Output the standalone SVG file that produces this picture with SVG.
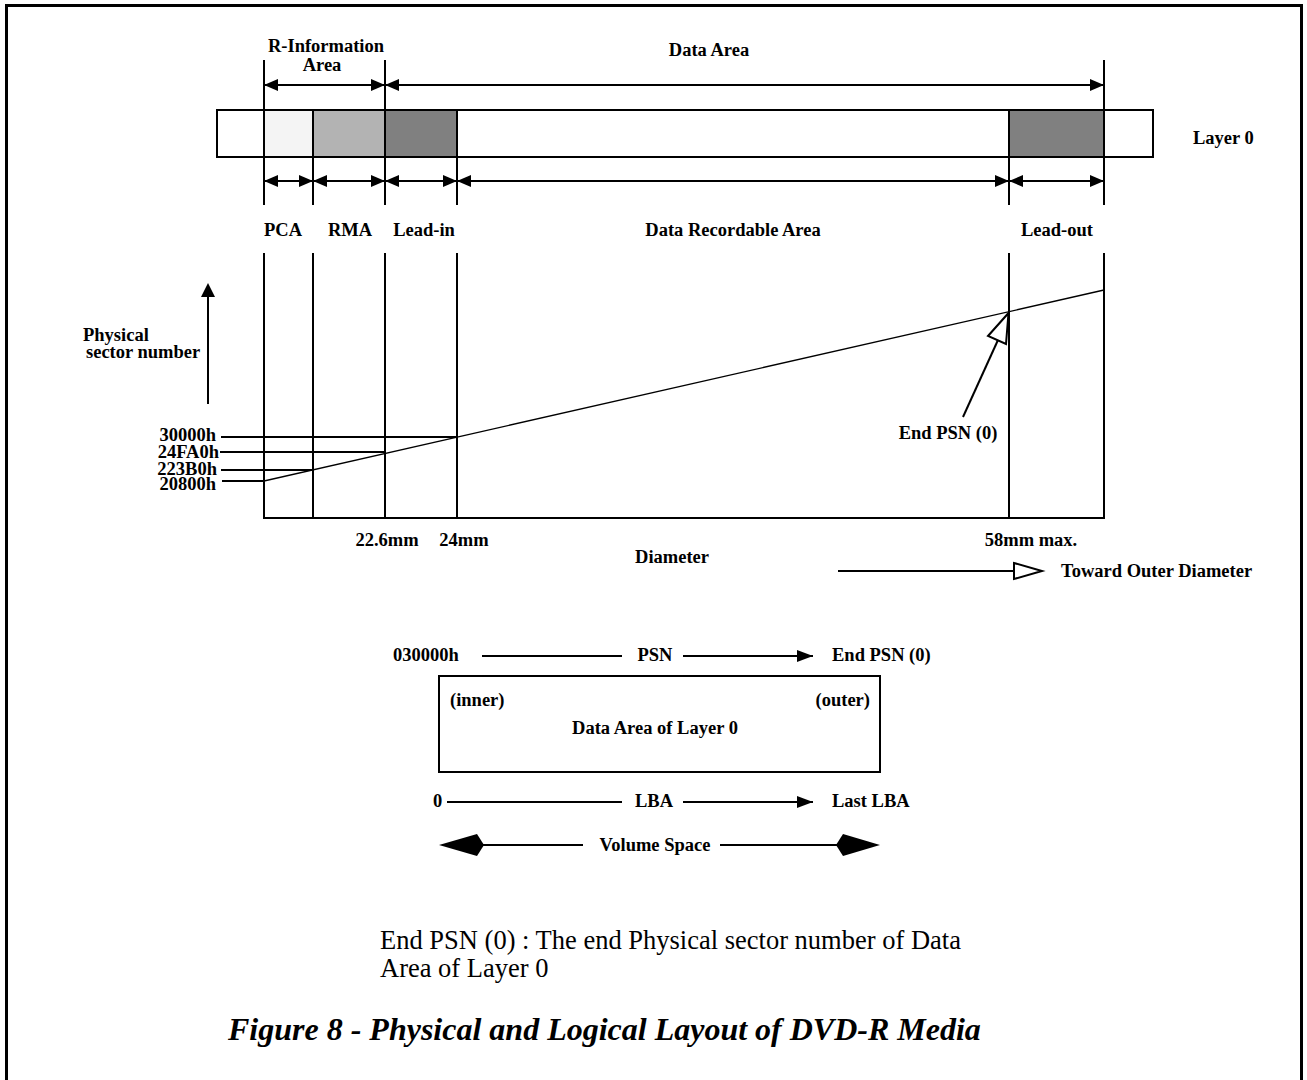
<svg xmlns="http://www.w3.org/2000/svg" width="1307" height="1080" viewBox="0 0 1307 1080">
  <style>
    .lbl { font-family: "Liberation Serif", "Times New Roman", serif; font-weight: bold; font-size: 18.5px; fill: #000; }
    .note { font-family: "Liberation Serif", "Times New Roman", serif; font-size: 26.5px; fill: #000; }
    .cap { font-family: "Liberation Serif", "Times New Roman", serif; font-weight: bold; font-style: italic; font-size: 32px; fill: #000; }
    .ln { stroke: #000; stroke-width: 2; fill: none; }
    .thin { stroke: #000; stroke-width: 1.3; fill: none; }
    .dim { stroke: #000; stroke-width: 2; fill: none; marker-start: url(#dimHead); marker-end: url(#dimHead); }
    .fwd { stroke: #000; stroke-width: 2; fill: none; marker-end: url(#flowHead); }
  </style>
  <defs>
    <marker id="dimHead" markerUnits="userSpaceOnUse" viewBox="0 0 14 12" refX="14" refY="6" markerWidth="14" markerHeight="12" orient="auto-start-reverse">
      <path d="M0,0 L14,6 L0,12 z" fill="#000"/>
    </marker>
    <marker id="flowHead" markerUnits="userSpaceOnUse" viewBox="0 0 16 12" refX="16" refY="6" markerWidth="16" markerHeight="12" orient="auto">
      <path d="M0,0 L16,6 L0,12 z" fill="#000"/>
    </marker>
  </defs>

  <!-- page frame -->
  <rect x="6.5" y="5.5" width="1295" height="1100" fill="#fff" stroke="#000" stroke-width="3"/>

  <!-- Layer 0 strip -->
  <g id="layer0-strip">
    <rect x="217" y="110" width="936" height="47" fill="#fff" stroke="#000" stroke-width="2"/>
    <rect id="pca" x="264" y="110" width="49" height="47" fill="#f4f4f4" stroke="#000" stroke-width="2"/>
    <rect id="rma" x="313" y="110" width="72" height="47" fill="#b3b3b3" stroke="#000" stroke-width="2"/>
    <rect id="lead-in" x="385" y="110" width="72" height="47" fill="#808080" stroke="#000" stroke-width="2"/>
    <rect id="lead-out" x="1009" y="110" width="95" height="47" fill="#808080" stroke="#000" stroke-width="2"/>
    <text class="lbl" x="1193" y="144">Layer 0</text>
  </g>

  <!-- area boundaries: ticks above and below the strip -->
  <g id="boundaries">
    <line class="ln" x1="264" y1="60" x2="264" y2="110"/>
    <line class="ln" x1="385" y1="60" x2="385" y2="110"/>
    <line class="ln" x1="1104" y1="60" x2="1104" y2="110"/>
    <line class="ln" x1="264" y1="157" x2="264" y2="205"/>
    <line class="ln" x1="313" y1="157" x2="313" y2="205"/>
    <line class="ln" x1="385" y1="157" x2="385" y2="205"/>
    <line class="ln" x1="457" y1="157" x2="457" y2="205"/>
    <line class="ln" x1="1009" y1="157" x2="1009" y2="205"/>
    <line class="ln" x1="1104" y1="157" x2="1104" y2="205"/>
  </g>

  <!-- upper area labels -->
  <g id="upper-areas">
    <text class="lbl" x="326" y="52" text-anchor="middle">R-Information</text>
    <text class="lbl" x="322" y="71" text-anchor="middle">Area</text>
    <text class="lbl" x="709" y="56" text-anchor="middle">Data Area</text>
  </g>

  <!-- lower area labels -->
  <g id="lower-areas">
    <text class="lbl" x="283" y="236" text-anchor="middle">PCA</text>
    <text class="lbl" x="350" y="236" text-anchor="middle">RMA</text>
    <text class="lbl" x="424" y="236" text-anchor="middle">Lead-in</text>
    <text class="lbl" x="733" y="236" text-anchor="middle">Data Recordable Area</text>
    <text class="lbl" x="1057" y="236" text-anchor="middle">Lead-out</text>
  </g>

  <!-- dimension arrows -->
  <g id="connectors">
    <line class="dim" x1="264" y1="85" x2="385" y2="85"/>
    <line class="dim" x1="385" y1="85" x2="1104" y2="85"/>
    <line class="dim" x1="264" y1="181" x2="313" y2="181"/>
    <line class="dim" x1="313" y1="181" x2="385" y2="181"/>
    <line class="dim" x1="385" y1="181" x2="457" y2="181"/>
    <line class="dim" x1="457" y1="181" x2="1009" y2="181"/>
    <line class="dim" x1="1009" y1="181" x2="1104" y2="181"/>
  </g>

  <!-- PSN versus diameter chart -->
  <g id="psn-chart">
    <line class="ln" x1="264" y1="253" x2="264" y2="518"/>
    <line class="ln" x1="313" y1="253" x2="313" y2="518"/>
    <line class="ln" x1="385" y1="253" x2="385" y2="518"/>
    <line class="ln" x1="457" y1="253" x2="457" y2="518"/>
    <line class="ln" x1="1009" y1="253" x2="1009" y2="518"/>
    <line class="ln" x1="1104" y1="253" x2="1104" y2="518"/>
    <line class="ln" x1="263" y1="518" x2="1105" y2="518"/>
    <line class="thin" x1="264" y1="481" x2="1104" y2="290"/>

    <line class="ln" x1="221" y1="437" x2="457" y2="437"/>
    <line class="ln" x1="220" y1="452" x2="385" y2="452"/>
    <line class="ln" x1="221" y1="470" x2="313" y2="470"/>
    <line class="ln" x1="222" y1="481" x2="264" y2="481"/>
    <text class="lbl" x="216" y="441" text-anchor="end">30000h</text>
    <text class="lbl" x="219" y="458" text-anchor="end">24FA0h</text>
    <text class="lbl" x="217" y="475" text-anchor="end">223B0h</text>
    <text class="lbl" x="216" y="490" text-anchor="end">20800h</text>

    <line class="ln" x1="208" y1="404" x2="208" y2="296"/>
    <path d="M208,283 L215,297 L201,297 z" fill="#000"/>
    <text class="lbl" x="83" y="341">Physical</text>
    <text class="lbl" x="86" y="358">sector number</text>

    <text class="lbl" x="387" y="546" text-anchor="middle">22.6mm</text>
    <text class="lbl" x="464" y="546" text-anchor="middle">24mm</text>
    <text class="lbl" x="1031" y="546" text-anchor="middle">58mm max.</text>
    <text class="lbl" x="672" y="563" text-anchor="middle">Diameter</text>

    <line class="ln" x1="963" y1="417" x2="998" y2="340"/>
    <path d="M1008.5,313 L1006,344 L988,336 z" fill="#fff" stroke="#000" stroke-width="2" stroke-linejoin="miter"/>
    <text class="lbl" x="948" y="439" text-anchor="middle">End PSN (0)</text>

    <line class="ln" x1="838" y1="571" x2="1014" y2="571"/>
    <path d="M1014,563 L1042,571 L1014,579 z" fill="#fff" stroke="#000" stroke-width="2"/>
    <text class="lbl" x="1061" y="577">Toward Outer Diameter</text>
  </g>

  <!-- logical layout of the data area -->
  <g id="logical-layout">
    <text class="lbl" x="393" y="661">030000h</text>
    <line class="ln" x1="482" y1="656" x2="622" y2="656"/>
    <text class="lbl" x="655" y="661" text-anchor="middle">PSN</text>
    <line class="fwd" x1="683" y1="656" x2="813" y2="656"/>
    <text class="lbl" x="832" y="661">End PSN (0)</text>

    <rect x="439" y="676" width="441" height="96" fill="#fff" stroke="#000" stroke-width="2"/>
    <text class="lbl" x="450" y="706">(inner)</text>
    <text class="lbl" x="870" y="706" text-anchor="end">(outer)</text>
    <text class="lbl" x="655" y="734" text-anchor="middle">Data Area of Layer 0</text>

    <text class="lbl" x="433" y="807">0</text>
    <line class="ln" x1="447" y1="802" x2="622" y2="802"/>
    <text class="lbl" x="654" y="807" text-anchor="middle">LBA</text>
    <line class="fwd" x1="683" y1="802" x2="813" y2="802"/>
    <text class="lbl" x="832" y="807">Last LBA</text>

    <line class="ln" x1="482" y1="845" x2="583" y2="845"/>
    <path d="M439,845 L477,834 L484,845 L477,856 z" fill="#000"/>
    <text class="lbl" x="655" y="851" text-anchor="middle">Volume Space</text>
    <line class="ln" x1="720" y1="845" x2="838" y2="845"/>
    <path d="M880,845 L843,834 L836,845 L843,856 z" fill="#000"/>
  </g>

  <!-- footnote and caption -->
  <g id="notes">
    <text class="note" x="380" y="949">End PSN (0) : The end Physical sector number of Data</text>
    <text class="note" x="380" y="977">Area of Layer 0</text>
    <text class="cap" x="228" y="1040">Figure 8 - Physical and Logical Layout of DVD-R Media</text>
  </g>
</svg>
